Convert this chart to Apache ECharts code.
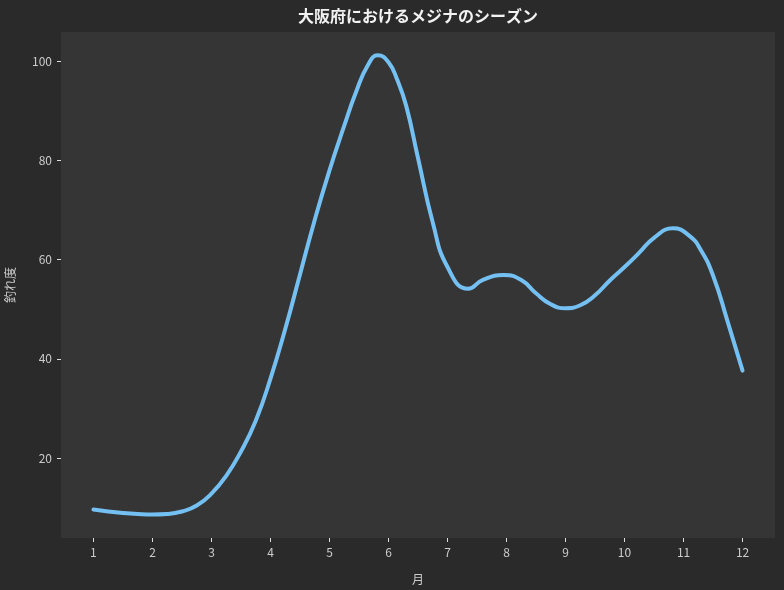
<!DOCTYPE html>
<html>
<head>
<meta charset="utf-8">
<script src="https://cdn.jsdelivr.net/npm/echarts@6/dist/echarts.min.js"></script>
<style>
  html, body { margin: 0; padding: 0; background: #2a2a2a; }
  #main { width: 784px; height: 590px; }
</style>
</head>
<body>
<div id="main"></div>
<script>
// months shown on the x axis
var months = [1, 2, 3, 4, 5, 6, 7, 8, 9, 10, 11, 12];
var yTicks = [20, 40, 60, 80, 100];

// curve, about every quarter month plus the turning points (month, 釣れ度)
var curveX = [1, 1.25, 1.5, 1.75, 2, 2.25, 2.5, 2.75, 3, 3.25, 3.5, 3.75, 4, 4.25, 4.5, 4.75,
  5, 5.25, 5.45, 5.65, 5.82, 6, 6.15, 6.3, 6.5, 6.75, 7, 7.35, 7.6, 7.95, 8.25, 8.5, 8.75,
  9, 9.25, 9.5, 9.75, 10, 10.25, 10.5, 10.82, 11.1, 11.3, 11.5, 11.75, 12];
var curveY = [9.6, 9.2, 8.9, 8.7, 8.6, 8.7, 9.2, 10.4, 12.8, 16.4, 21.3, 27.5, 36.0, 46.0, 57.0, 68.0,
  78.0, 87.0, 93.8, 99.2, 101.2, 99.8, 96.2, 91.0, 80.5, 67.5, 58.5, 54.1, 55.9, 56.9, 55.9, 53.2, 51.0,
  50.2, 50.8, 52.8, 55.8, 58.5, 61.4, 64.4, 66.3, 64.8, 61.8, 56.8, 47.4, 37.6];

var points = curveX.map(function (x, i) { return [x, curveY[i]]; });

var font = '"Noto Sans CJK JP", "Noto Sans", sans-serif';
var chart = echarts.init(document.getElementById('main'));
chart.setOption({
  backgroundColor: '#2a2a2a',
  textStyle: { fontFamily: font },
  title: {
    text: '大阪府におけるメジナのシーズン',
    left: 418,
    top: 8,
    padding: 0,
    textAlign: 'center',
    textStyle: { color: '#f2f2f2', fontSize: 16, fontWeight: 'bold', fontFamily: font }
  },
  grid: {
    left: 61, right: 9, top: 32, bottom: 52,
    outerBoundsMode: 'none',
    containLabel: false,
    show: true, backgroundColor: '#353535', borderWidth: 0
  },
  xAxis: {
    type: 'value',
    min: 0.45, max: 12.55,
    name: '月',
    nameLocation: 'middle',
    nameGap: 35,
    nameTextStyle: { color: '#cccccc', fontSize: 12 },
    axisLine: { show: false },
    splitLine: { show: false },
    axisTick: { show: true, length: 4, lineStyle: { color: '#dddddd', width: 1 }, customValues: months },
    axisLabel: { color: '#cccccc', fontSize: 12, margin: 8, customValues: months }
  },
  yAxis: {
    type: 'value',
    min: 3.86, max: 105.9,
    name: '釣れ度',
    nameLocation: 'middle',
    nameGap: 45,
    nameRotate: 90,
    nameTextStyle: { color: '#cccccc', fontSize: 12 },
    axisLine: { show: false },
    splitLine: { show: false },
    axisTick: { show: true, length: 4, lineStyle: { color: '#dddddd', width: 1 }, customValues: yTicks },
    axisLabel: { color: '#cccccc', fontSize: 12, margin: 9, customValues: yTicks }
  },
  series: [{
    type: 'line',
    data: points,
    smooth: 0.5,
    showSymbol: false,
    lineStyle: { color: '#74c0f2', width: 4, cap: 'round' },
    animation: false
  }]
});
</script>
</body>
</html>
